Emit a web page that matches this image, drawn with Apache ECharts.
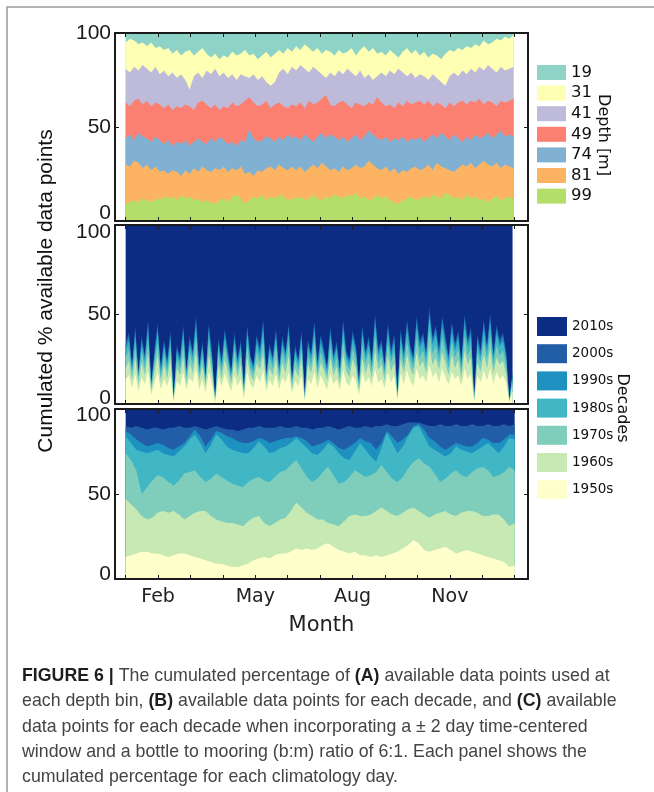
<!DOCTYPE html>
<html><head><meta charset="utf-8">
<script src="https://cdn.jsdelivr.net/npm/echarts@6/dist/echarts.min.js"></script>
<style>html,body{margin:0;padding:0;background:#fff}#c{width:654px;height:792px}</style>
</head><body><div id="c"></div>
<script>
// ---------- x positions (climatology day) ----------
const daysA = [1,5,9,13,17,21,25,29,33,37,41,45,49,53,57,61,65,69,73,77,81,85,89,93,97,101,105,109,113,117,121,125,129,133,137,141,145,149,153,157,161,165,169,173,177,181,185,189,193,197,201,205,209,213,217,221,225,229,233,237,241,245,249,253,257,261,265,269,273,277,281,285,289,293,297,301,305,309,313,317,321,325,329,333,337,341,345,349,353,357,361,365];
const daysB = [1,4,7,10,13,16,19,22,25,28,31,34,37,40,43,46,49,52,55,58,61,64,67,70,73,76,79,82,85,88,91,94,97,100,103,106,109,112,115,118,121,124,127,130,133,136,139,142,145,148,151,154,157,160,163,166,169,172,175,178,181,184,187,190,193,196,199,202,205,208,211,214,217,220,223,226,229,232,235,238,241,244,247,250,253,256,259,262,265,268,271,274,277,280,283,286,289,292,295,298,301,304,307,310,313,316,319,322,325,328,331,334,337,340,343,346,349,352,355,358,361,364];
const daysC = [1,6,11,16,21,26,31,36,41,46,51,56,61,66,71,76,81,86,91,96,101,106,111,116,121,126,131,136,141,146,151,156,161,166,171,176,181,186,191,196,201,206,211,216,221,226,231,236,241,246,251,256,261,266,271,276,281,286,291,296,301,306,311,316,321,326,331,336,341,346,351,356,361,366];

// ---------- Panel A: cumulated % (upper edge of each depth band) ----------
const depthNames = ['19','31','41','49','74','81','99'];
const a19 = [100,100,100,100,100,100,100,100,100,100,100,100,100,100,100,100,100,100,100,100,100,100,100,100,100,100,100,100,100,100,100,100,100,100,100,100,100,100,100,100,100,100,100,100,100,100,100,100,100,100,100,100,100,100,100,100,100,100,100,100,100,100,100,100,100,100,100,100,100,100,100,100,100,100,100,100,100,100,100,100,100,100,100,100,100,100,100,100,100,100,100,100];
const a31 = [95,97,96,94,95,93,95,92,93,91, 92,89,91,88,90,91,88,90,92,89, 87,89,86,88,87,90,88,89,91,88, 89,86,88,90,87,89,91,89,92,90, 93,91,94,92,90,92,89,91,90,88, 91,89,90,92,88,91,93,90,92,89, 90,88,91,89,87,90,92,89,91,88, 90,87,89,88,86,89,91,90,92,91, 93,92,94,93,96,94,95,97,96,98, 97,99];
const a41 = [81,79,82,80,83,81,79,82,78,80, 77,79,76,78,75,70,77,79,76,80, 78,81,77,79,76,78,75,78,77,76, 78,75,77,74,72,74,79,81,78,82, 80,83,81,79,82,80,78,76,79,77, 80,78,81,79,77,80,76,78,75,77, 79,77,80,78,81,79,77,79,76,78, 77,75,78,76,74,72,77,79,77,80, 78,81,79,82,80,83,81,79,82,80, 81,82];
const a49 = [63,61,64,65,62,64,61,63,62,60, 62,59,61,60,62,61,59,63,64,62, 60,62,59,61,60,63,61,62,64,66, 63,61,62,64,60,62,63,61,60,62, 61,63,60,64,62,63,65,67,62,61, 63,64,62,60,63,62,61,63,62,66, 63,61,62,60,63,61,64,62,63,64, 62,64,61,63,62,60,63,61,63,64, 62,64,63,65,62,64,63,61,64,63, 64,65];
const a74 = [44,46,43,47,45,44,42,45,43,41, 43,40,42,41,43,40,42,44,42,41, 44,42,45,43,41,42,40,43,42,49, 44,42,43,45,44,42,45,43,46,44, 45,43,46,44,42,45,47,44,46,45, 43,45,42,44,46,43,45,48,46,44, 43,45,42,44,43,45,42,44,43,45, 42,44,46,44,47,45,43,46,44,42, 45,43,46,44,45,47,44,46,48,45, 46,45];
const a81 = [30,29,32,31,28,30,27,29,26,27, 25,27,26,24,27,25,28,26,29,27, 26,28,27,29,26,28,27,29,25,26, 24,27,26,28,29,27,30,28,27,29, 27,29,26,28,30,28,31,29,27,28, 26,29,27,28,30,28,29,32,30,28, 27,29,26,28,25,27,26,28,29,27, 28,30,27,31,29,28,27,26,28,30, 29,31,28,30,32,30,29,31,28,30, 29,28];
const a99 = [9,10,11,10,12,11,10,12,11,13, 12,13,11,14,12,13,11,12,10,11, 10,9,11,12,10,13,14,12,9,11, 13,12,14,11,13,12,14,13,11,12, 12,13,11,12,14,12,11,13,12,14, 13,12,14,13,15,12,13,11,12,14, 12,13,11,10,9,11,12,13,11,12, 13,12,14,13,12,15,14,12,13,11, 14,12,13,11,12,10,12,13,11,12, 13,12];

// ---------- Panel B: cumulated % per decade (upper edges) ----------
const decadeNames = ['2010s','2000s','1990s','1980s','1970s','1960s','1950s'];
const b2010 = [100,100,100,100,100,100,100,100,100,100,100,100,100,100,100,100,100,100,100,100,100,100,100,100,100,100,100,100,100,100,100,100,100,100,100,100,100,100,100,100,100,100,100,100,100,100,100,100,100,100,100,100,100,100,100,100,100,100,100,100,100,100,100,100,100,100,100,100,100,100,100,100,100,100,100,100,100,100,100,100,100,100,100,100,100,100,100,100,100,100,100,100,100,100,100,100,100,100,100,100,100,100,100,100,100,100,100,100,100,100,100,100,100,100,100,100,100,100,100,100,100,100];
const b2000 = [34,40,22,43,18,38,27,47,12,30, 45,20,36,24,41,3,33,26,44,19, 38,29,49,21,35,16,45,28,2,37, 24,42,30,18,40,25,36,8,44,27, 22,39,31,47,17,34,26,42,20,38, 29,45,14,33,25,41,4,36,28,46, 23,39,31,21,43,27,35,19,47,30, 25,41,33,12,44,29,38,24,50,31, 36,22,45,30,39,5,42,28,47,33, 26,49,35,40,29,54,37,44,31,49, 38,27,46,34,41,24,50,36,43,2, 39,30,47,33,51,28,44,36,40,29, 2,18];
const b1990 = [32,38,21,41,17,36,26,45,11,28, 43,19,34,23,39,3,31,25,42,18, 36,28,47,20,33,15,43,27,2,35, 23,40,28,17,38,24,34,8,42,26, 21,37,29,45,16,32,25,40,19,36, 28,43,13,31,24,39,4,34,27,44, 22,37,29,20,41,26,33,18,45,28, 24,39,31,11,42,28,36,23,48,29, 34,21,43,28,37,5,40,27,45,31, 25,47,33,38,28,51,35,42,29,47, 36,26,44,32,39,23,48,34,41,2, 37,28,45,31,48,27,42,34,38,28, 2,17];
const b1980 = [30,35,19,38,16,33,24,41,11,26, 40,18,32,21,36,3,29,23,39,17, 33,26,43,18,31,14,40,25,2,33, 21,37,26,16,35,22,32,7,39,24, 19,34,27,41,15,30,23,37,18,33, 26,40,12,29,22,36,4,32,25,40, 20,34,27,18,38,24,31,17,41,26, 22,36,29,11,39,26,33,21,44,27, 32,19,40,26,34,4,37,25,41,29, 23,43,31,35,26,48,33,39,27,43, 33,24,40,30,36,21,44,32,38,2, 34,26,41,29,45,25,39,32,35,26, 2,16];
const b1970 = [26,30,17,32,14,29,20,35,9,23, 34,15,27,18,31,2,25,20,33,14, 29,22,37,16,26,12,34,21,2,28, 18,32,23,14,30,19,27,6,33,20, 17,29,23,35,13,26,20,32,15,29, 22,34,11,25,19,31,3,27,21,35, 17,29,23,16,32,20,26,14,35,23, 19,31,25,9,33,22,29,18,38,23, 27,17,34,23,29,4,32,21,35,25, 20,37,26,30,22,41,28,33,23,37, 29,20,35,26,31,18,38,27,32,2, 29,23,35,25,38,21,33,27,30,22, 2,14];
const b1960 = [20,24,13,26,11,23,16,28,7,18, 27,12,22,14,25,2,20,16,26,11, 23,17,29,13,21,10,27,17,1,22, 14,25,18,11,24,15,22,5,26,16, 13,23,19,28,10,20,16,25,12,23, 17,27,8,20,15,25,2,22,17,28, 14,23,19,13,26,16,21,11,28,18, 15,25,20,7,26,17,23,14,30,19, 22,13,27,18,23,3,25,17,28,20, 16,29,21,24,17,32,22,26,19,29, 23,16,28,20,25,14,30,22,26,1, 23,18,28,20,31,17,26,22,24,17, 1,11];
const b1950 = [14,16,9,17,7,15,11,19,5,12, 18,8,14,10,16,1,13,10,18,8, 15,12,20,8,14,6,18,11,1,15, 10,17,12,7,16,10,14,3,18,11, 9,16,12,19,7,14,10,17,8,15, 12,18,6,13,10,16,2,14,11,18, 9,16,12,8,17,11,14,8,19,12, 10,16,13,5,18,12,15,10,20,12, 14,9,18,12,16,2,17,11,19,13, 10,20,14,16,12,22,15,18,12,20, 15,11,18,14,16,10,20,14,17,1, 16,12,19,13,20,11,18,14,16,12, 1,7];

// ---------- Panel C: cumulated % per decade, +-2 day window (upper edges) ----------
const c2010 = [100,100,100,100,100,100,100,100,100,100,100,100,100,100,100,100,100,100,100,100,100,100,100,100,100,100,100,100,100,100,100,100,100,100,100,100,100,100,100,100,100,100,100,100,100,100,100,100,100,100,100,100,100,100,100,100,100,100,100,100,100,100,100,100,100,100,100,100,100,100,100,100,100,100];
const c2000 = [90,89,90,89,88,89,89,88,89,89, 90,89,89,90,89,88,89,90,89,88, 88,87,88,89,89,90,89,89,89,90, 89,89,90,89,89,88,89,89,90,89, 88,89,90,89,89,90,89,90,90,91, 90,90,91,92,92,92,91,90,90,91, 90,90,91,90,90,91,90,90,91,90, 90,91,90,91];
const c1990 = [87,85,82,80,78,79,80,79,77,76, 78,80,84,88,84,78,82,87,86,84, 83,81,80,80,81,83,82,80,81,82, 83,83,84,83,81,78,79,80,82,80, 77,76,78,80,83,81,80,76,80,87, 84,80,82,85,90,91,88,83,81,78, 76,78,80,79,78,78,80,83,82,80, 80,82,85,85];
const c1980 = [84,80,76,75,74,75,76,74,73,72, 75,78,82,85,80,74,79,85,82,78, 76,75,74,74,77,81,78,74,75,77, 78,80,83,80,77,74,73,76,80,78, 74,71,70,75,80,76,72,69,77,86, 80,74,78,84,89,90,84,78,76,74, 72,74,78,76,75,74,76,78,80,77, 74,78,83,82];
const c1970 = [74,70,64,50,54,58,61,60,57,55, 58,62,63,64,60,57,59,62,60,58, 56,55,54,57,59,60,58,57,60,63, 64,67,70,65,60,57,59,63,66,61, 56,57,60,64,62,60,61,63,67,63, 59,57,60,65,69,71,68,66,62,57, 59,62,64,61,60,63,65,66,64,60, 61,63,66,64];
const c1960 = [47,44,41,37,35,36,39,40,39,40, 38,35,37,39,40,40,37,35,34,33, 33,32,31,34,36,37,33,31,33,35, 36,40,45,42,39,37,35,35,33,32, 31,34,37,38,37,37,38,40,42,40, 38,37,39,41,42,40,38,36,38,39, 40,38,37,39,40,40,39,37,37,38, 38,35,31,33];
const c1950 = [13,14,15,16,16,15,15,14,13,14, 15,15,14,13,12,11,10,9,9,8, 7,7,8,9,11,12,13,12,14,15, 15,16,18,17,18,17,18,20,21,19, 17,16,15,16,14,14,13,14,13,14, 15,16,18,20,23,21,17,16,17,18, 19,17,15,16,17,16,15,14,13,12, 11,10,7,8];

// ---------- axis ticks ----------
const tickDays = [1,31.42,61.83,92.25,122.67,153.08,183.5,213.92,244.33,274.75,305.17,335.58,366];
const labelDays = [31.42,122.67,213.92,305.17];
const monthLabels = ['Feb','May','Aug','Nov'];

// ---------- styling ----------
const depthColors = ['#8dd3c7','#ffffb3','#bebada','#fb8072','#80b1d3','#fdb462','#b3de69'];
const decadeColors = ['#0c2c84','#225ea8','#1d91c0','#41b6c4','#7fcdbb','#c7e9b4','#ffffcc'];
const LS = 'Liberation Sans, Arial, sans-serif';
const DV = 'DejaVu Sans, sans-serif';
const XMIN = -9, XMAX = 378.5;
const INK = '#1a1a1a';

const gridsPos = [
  {left:115, top:33, width:413, height:188},
  {left:115, top:225, width:413, height:179},
  {left:115, top:409, width:413, height:170}
];
const labelPad = [[0,16],[14,12],[12,10]]; // [hi pad, lo pad] per panel

function bandSeries(days, edges, names, colors, gi) {
  return edges.map((arr, k) => ({
    type:'line', name:names[k], xAxisIndex:gi*2, yAxisIndex:gi*2,
    data: arr.map((v,j)=>[days[j], v]),
    symbol:'none', showSymbol:false, silent:true, z:2,
    lineStyle:{width:0}, itemStyle:{color:colors[k]},
    areaStyle:{color:colors[k], opacity:1, origin:'start'}
  }));
}

const xAxes = [], yAxes = [];
gridsPos.forEach((g, gi) => {
  const xBase = {type:'value', gridIndex:gi, min:XMIN, max:XMAX, z:5, splitLine:{show:false},
    axisLine:{show:true, onZero:false, lineStyle:{color:INK, width:2}},
    axisTick:{show:true, inside:true, length:4, customValues:tickDays, lineStyle:{color:INK, width:1}}};
  const last = gi === 2;
  xAxes.push(Object.assign({}, xBase, {position:'bottom',
    axisLabel: last ? {show:true, customValues:labelDays, margin:9, color:'#222', fontFamily:DV, fontSize:19,
      formatter: v => { let b=0; labelDays.forEach((d,i)=>{ if (Math.abs(d-v) < Math.abs(labelDays[b]-v)) b=i; }); return monthLabels[b]; }} : {show:false},
    name: last ? 'Month' : '', nameLocation:'middle', nameGap:36,
    nameTextStyle:{fontFamily:DV, fontSize:21, color:'#222'}}));
  xAxes.push(Object.assign({}, xBase, {position:'top', axisLabel:{show:false}}));
  const yBase = {type:'value', gridIndex:gi, min:0, max:100, interval:50, z:5, splitLine:{show:false},
    axisLine:{show:true, onZero:false, lineStyle:{color:INK, width:2}},
    axisTick:{show:true, inside:true, length:4, lineStyle:{color:INK, width:1}}};
  const tok = {fontFamily:LS, fontSize:21, color:INK};
  yAxes.push(Object.assign({}, yBase, {position:'left',
    axisLabel:{margin:4, fontFamily:LS, fontSize:21, color:INK,
      formatter: v => v===0 ? '{lo|0}' : (v===100 ? '{hi|100}' : '{m|50}'),
      rich:{lo:Object.assign({padding:[0,0,labelPad[gi][1],0]}, tok),
            hi:Object.assign({padding:[labelPad[gi][0],0,0,0]}, tok),
            m:Object.assign({}, tok)}}}));
  yAxes.push(Object.assign({}, yBase, {position:'right', axisLabel:{show:false}}));
});

const series = [].concat(
  bandSeries(daysA, [a19,a31,a41,a49,a74,a81,a99], depthNames, depthColors, 0),
  bandSeries(daysB, [b2010,b2000,b1990,b1980,b1970,b1960,b1950], decadeNames, decadeColors, 1),
  bandSeries(daysC, [c2010,c2000,c1990,c1980,c1970,c1960,c1950], decadeNames, decadeColors, 2)
);

const capScale = 0.935, capSize = 19;
function capLine(t, y) {
  return {type:'text', x:22, y:y, scaleX:capScale, silent:true,
    style:{text:t, fill:'#444', fontFamily:LS, fontSize:capSize, verticalAlign:'middle', align:'left',
      rich:{b:{fontWeight:'bold', fill:'#1e1e1e', fontFamily:LS, fontSize:capSize}}}};
}
function label(t, x, y, size, font, rot) {
  return {type:'text', x:x, y:y, rotation:rot||0, silent:true,
    style:{text:t, fill:'#111', fontFamily:font, fontSize:size, align:'center', verticalAlign:'middle'}};
}

const chart = echarts.init(document.getElementById('c'), null, {renderer:'canvas'});
chart.setOption({
  animation:false,
  backgroundColor:'#ffffff',
  grid: gridsPos.map(g => Object.assign({show:false}, g)),
  xAxis: xAxes,
  yAxis: yAxes,
  legend: [
    {data:depthNames, orient:'vertical', left:537, top:64, padding:0, icon:'rect', itemWidth:29, itemHeight:15, itemGap:3.6,
     selectedMode:false, itemStyle:{borderWidth:0},
     textStyle:{fontFamily:DV, fontSize:16.5, color:'#111', lineHeight:15}},
    {data:decadeNames, orient:'vertical', left:537, top:317, padding:0, icon:'rect', itemWidth:30, itemHeight:19, itemGap:8.2,
     selectedMode:false, itemStyle:{borderWidth:0},
     textStyle:{fontFamily:DV, fontSize:13.5, color:'#111', lineHeight:19}}
  ],
  series: series,
  graphic: [
    {type:'rect', silent:true, shape:{x:7, y:7, width:720, height:820}, style:{fill:'none', stroke:'#9a9a9a', lineWidth:1.5}},
    label('Cumulated % available data points', 46, 291, 21, LS, Math.PI/2),
    label('Depth [m]', 603, 135, 16, DV, -Math.PI/2),
    label('Decades', 622, 408, 16, DV, -Math.PI/2),
    label('A', 141, 208.5, 17, DV),
    label('B', 141, 393.5, 17, DV),
    label('C', 141, 565, 17, DV),
    capLine('{b|FIGURE 6 |} The cumulated percentage of {b|(A)} available data points used at', 676),
    capLine('each depth bin, {b|(B)} available data points for each decade, and {b|(C)} available', 701),
    capLine('data points for each decade when incorporating a \u00b1 2 day time-centered', 727),
    capLine('window and a bottle to mooring (b:m) ratio of 6:1. Each panel shows the', 752),
    capLine('cumulated percentage for each climatology day.', 777)
  ]
});
</script>
</body></html>
